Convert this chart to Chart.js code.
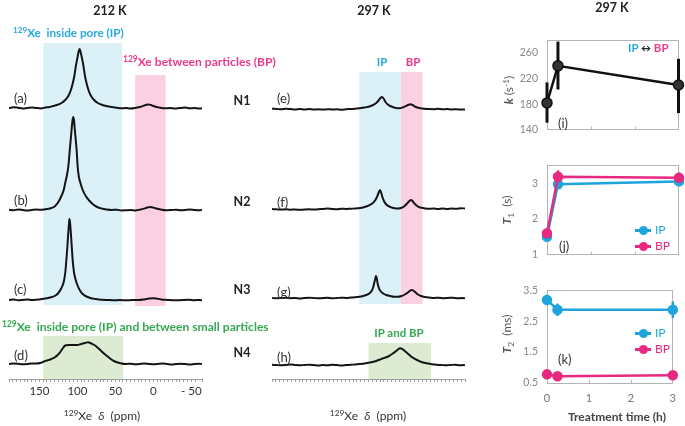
<!DOCTYPE html>
<html><head><meta charset="utf-8">
<script src="https://cdn.jsdelivr.net/npm/chart.js@4.4.1/dist/chart.umd.min.js"></script>
<style>
html,body{margin:0;padding:0;background:#fff;}
#wrap{position:relative;width:685px;height:426px;overflow:hidden;font-family:Lato,"Open Sans",sans-serif;color:#333;}
canvas{position:absolute;}
.t{position:absolute;white-space:nowrap;line-height:1;transform:translate(-50%,-50%);}
.l{position:absolute;white-space:nowrap;line-height:1;transform:translateY(-50%);}
.r{position:absolute;white-space:nowrap;line-height:1;transform:translate(-50%,-50%) rotate(-90deg);}
.b{font-weight:700;}
sup{font-size:.7em;position:relative;top:-.45em;vertical-align:baseline;line-height:0;}
sub{font-size:.7em;position:relative;top:.3em;vertical-align:baseline;line-height:0;}
.lg{position:absolute;transform:translateY(-50%);height:10px;width:16px;}
.lg .ln{position:absolute;left:0;top:4px;width:16px;height:2.5px;}
.lg .dt{position:absolute;left:3.5px;top:0.5px;width:9px;height:9px;border-radius:50%;}
</style></head>
<body><div id="wrap">
<canvas id="cLeft" width="230" height="426" style="left:0;top:0"></canvas>
<canvas id="cMid" width="250" height="426" style="left:230px;top:0"></canvas>
<canvas id="cI" width="215" height="120" style="left:470px;top:25px"></canvas>
<canvas id="cJ" width="215" height="120" style="left:470px;top:150px"></canvas>
<canvas id="cK" width="215" height="151" style="left:470px;top:275px"></canvas>

<div class="t b" style="left:110px;top:11px;font-size:12.5px;color:#222">212 K</div>
<div class="t b" style="left:374px;top:11px;font-size:12.5px;color:#222">297 K</div>
<div class="t b" style="left:612px;top:8px;font-size:12.5px;color:#222">297 K</div>

<div class="l b" style="left:13px;top:33px;color:#29a8e0;font-size:11.7px"><sup>129</sup>Xe&nbsp; inside pore (IP)</div>
<div class="l b" style="left:123px;top:62px;color:#ec3b8d;font-size:12.1px"><sup>129</sup>Xe between particles (BP)</div>
<div class="l b" style="left:2px;top:327px;color:#35a853;font-size:12.1px"><sup>129</sup>Xe&nbsp; inside pore (IP) and between small particles</div>

<div class="l" style="left:14px;top:98px;font-size:13px">(a)</div>
<div class="l" style="left:14px;top:200px;font-size:13px">(b)</div>
<div class="l" style="left:14px;top:289px;font-size:13px">(c)</div>
<div class="l" style="left:14px;top:355px;font-size:13px">(d)</div>

<div class="t b" style="left:242px;top:101px;font-size:12.5px;color:#222">N1</div>
<div class="t b" style="left:242px;top:202px;font-size:12.5px;color:#222">N2</div>
<div class="t b" style="left:242px;top:290px;font-size:12.5px;color:#222">N3</div>
<div class="t b" style="left:242px;top:353px;font-size:12.5px;color:#222">N4</div>

<div class="l" style="left:277px;top:98px;font-size:13px">(e)</div>
<div class="l" style="left:277px;top:202px;font-size:13px">(f)</div>
<div class="l" style="left:277px;top:292px;font-size:13px">(g)</div>
<div class="l" style="left:277px;top:357px;font-size:13px">(h)</div>

<div class="t b" style="left:382px;top:62px;color:#29a8e0;font-size:11.5px">IP</div>
<div class="t b" style="left:413px;top:62px;color:#ec3b8d;font-size:11.5px">BP</div>
<div class="t b" style="left:399px;top:333px;color:#35a853;font-size:11.5px">IP and BP</div>

<div class="t" style="left:102px;top:416px;font-size:12px"><sup>129</sup>Xe&nbsp; <i>δ</i>&nbsp; (ppm)</div>
<div class="t" style="left:368px;top:416px;font-size:12px"><sup>129</sup>Xe&nbsp; <i>δ</i>&nbsp; (ppm)</div>

<div class="l" style="left:558px;top:123px;font-size:13px">(i)</div>
<div class="l" style="left:559px;top:246px;font-size:13px">(j)</div>
<div class="l" style="left:558px;top:359px;font-size:13px">(k)</div>

<div class="l b" style="left:628px;top:48px;font-size:11.5px"><span style="color:#29a8e0">IP</span> <span style="color:#222;font-size:10px">&#8596;</span> <span style="color:#ec3b8d">BP</span></div>

<div class="r" style="left:509px;top:90px;font-size:12px;color:#555"><i class="b">k</i> (s<sup>-1</sup>)</div>
<div class="r" style="left:507px;top:210px;font-size:12px;color:#555"><i class="b">T</i><sub>1</sub>&nbsp; (s)</div>
<div class="r" style="left:507px;top:334px;font-size:12px;color:#555"><i class="b">T</i><sub>2</sub>&nbsp; (ms)</div>
<div class="t b" style="left:617px;top:417px;font-size:12px;color:#444">Treatment time (h)</div>

<div class="lg" style="left:635px;top:230px"><div class="ln" style="background:#1ea5dc"></div><div class="dt" style="background:#1ea5dc"></div></div>
<div class="l" style="left:655px;top:230px;font-size:12px;color:#1ea5dc">IP</div>
<div class="lg" style="left:635px;top:246px"><div class="ln" style="background:#e8297f"></div><div class="dt" style="background:#e8297f"></div></div>
<div class="l" style="left:655px;top:246px;font-size:12px;color:#e8297f">BP</div>
<div class="lg" style="left:635px;top:333px"><div class="ln" style="background:#1ea5dc"></div><div class="dt" style="background:#1ea5dc"></div></div>
<div class="l" style="left:655px;top:333px;font-size:12px;color:#1ea5dc">IP</div>
<div class="lg" style="left:635px;top:349px"><div class="ln" style="background:#e8297f"></div><div class="dt" style="background:#e8297f"></div></div>
<div class="l" style="left:655px;top:349px;font-size:12px;color:#e8297f">BP</div>
</div>

<script>
// ---------------- DATA ----------------
// 129Xe NMR spectra, [chemical shift (ppm), intensity (a.u.)]
const specA = [[190,0],[184,0.8],[178,0.3],[172,-0.5],[166,0],[160,0.6],[154,0],[148,-0.4],[142,0.5],[137,1],[132,2],[127,3],[122,4.5],[116,8],[112,12],[109,17],[106,25],[104,32],[102,42],[100,50],[98.5,56],[97,59],[95.5,55],[94,50],[92,42],[90,32],[88,25],[85,17],[82,12],[78,8],[72,4.5],[67,3],[62,2],[55,1],[48,0.3],[42,-0.3],[36,0],[30,-0.5],[24,0],[18,1],[13,2.2],[9,3.3],[6,3.6],[3,3],[0,2],[-4,1],[-9,0.3],[-15,-0.3],[-22,0],[-28,-0.6],[-35,0],[-42,0.4],[-48,-0.3],[-54,0],[-60,-0.5],[-64,-0.3]];
const specB = [[190,0.3],[184,-0.3],[178,0.5],[172,0],[166,-0.6],[160,0],[154,0.5],[148,0.2],[142,0.8],[136,1.5],[130,3.5],[125,8],[121,14],[118,20],[116,27],[114,34],[112,43],[110,60],[108,77],[106.5,89],[105.5,93],[104.5,90],[103,77],[101,60],[99.6,43],[98,33],[96,27],[93,20],[89,14],[85,10],[80,6],[74,3],[68,1.5],[62,0.6],[55,0],[48,0.3],[42,-0.5],[36,-0.3],[30,0],[24,-0.4],[18,0.3],[12,1.4],[8,2.5],[4,3],[0,2.4],[-5,1.2],[-11,0.2],[-17,-0.3],[-24,0],[-30,0.3],[-36,-0.2],[-42,0],[-48,0.4],[-54,0],[-60,-0.3],[-64,0]];
const specC = [[190,0],[184,0.5],[178,-0.3],[172,0],[166,0.4],[160,0],[154,0.3],[148,0.8],[142,1.5],[136,2.5],[130,4],[125,7],[121,12],[118,18],[116,27],[114.5,40],[113.2,53],[112,67],[111,77],[110.5,81],[109.7,78],[108.6,67],[107.3,52],[106,38],[104.5,28],[102.6,21],[100,15],[97,10],[93,6],[88,3.5],[83,2],[76,1],[68,0.3],[60,0],[52,-0.3],[44,0],[36,-0.3],[28,0],[20,0],[12,0.6],[6,1.4],[1,1.8],[-4,1.5],[-9,0.8],[-15,0.2],[-22,0],[-30,-0.3],[-38,0],[-46,0.2],[-54,-0.2],[-60,0],[-64,-0.3]];
const specD = [[190,0],[184,0.5],[178,0.2],[172,-0.3],[166,0],[160,0.6],[154,0.4],[148,1.2],[144,2.5],[140,3.5],[135,4.8],[130,6.5],[126,9],[122,12.5],[119,16],[116,18.5],[112,19],[106,19],[100,19],[95,20],[90,21],[86,21.8],[83,21],[79,19.5],[75,17.5],[70,14],[65,10.5],[61,8],[57,5.5],[52,3],[47,1.5],[42,0.5],[36,0],[30,0.3],[24,-0.2],[18,0],[12,0.4],[6,0],[0,-0.3],[-6,0],[-12,0.4],[-18,0],[-24,-0.4],[-30,0],[-36,0.3],[-42,0],[-48,-0.4],[-54,0],[-60,0.3],[-64,0]];
const specE = [[188,0.3],[182,0],[176,-0.3],[170,0.3],[164,0],[158,-0.4],[152,0],[146,-0.5],[140,0],[134,-0.6],[128,-0.3],[122,-0.6],[116,-0.2],[110,-0.5],[104,-0.3],[98,-0.8],[92,-0.2],[86,0],[80,0.2],[74,0.8],[68,1.5],[62,2.5],[57,4],[53,6],[50,8.5],[47.5,11],[45.5,12],[43.5,10.5],[41,7],[38,4.5],[35,3],[31,1.8],[27,1],[23,0.8],[19,1.5],[15,2.8],[11,4.3],[8.5,4.7],[6,4],[3,2.5],[0,1.5],[-4,0.8],[-9,0.3],[-15,0],[-21,-0.2],[-27,0.2],[-33,-0.3],[-39,0],[-45,-0.5],[-51,-0.2],[-57,-0.6],[-62,-0.4]];
const specF = [[188,0],[182,-0.3],[176,-0.6],[170,-0.3],[164,-0.7],[158,-0.5],[152,-0.8],[146,-0.5],[140,-0.3],[134,-0.6],[128,-0.2],[122,0],[116,0.5],[110,0],[104,-0.3],[98,0.3],[92,0],[86,0.3],[80,0.5],[74,1],[69,1.8],[64,3],[59,5],[55,8],[52,12],[50,16],[48,19],[46.5,16],[45,12],[43,8],[40.5,5],[37,2.8],[33,1.5],[29,0.7],[25,0.5],[21,1],[17,2.5],[13,5.5],[10,8],[8,9],[6,8],[3.5,5.5],[0,3],[-4,1.5],[-9,0.8],[-15,0.2],[-21,0.5],[-27,0],[-33,0.4],[-39,0],[-45,0.5],[-51,0.2],[-57,0.8],[-62,0.5]];
const specG = [[188,0],[182,-0.3],[176,0],[170,0.3],[164,-0.2],[158,0],[152,-0.4],[146,0],[140,0.3],[134,0],[128,-0.3],[122,0],[116,0.2],[110,-0.3],[104,0],[98,0.3],[92,0],[86,0.4],[80,0.8],[75,1.2],[70,2],[66,3],[62,4.5],[59,7],[57,10.5],[55.3,16],[54,20],[53.3,22],[52.4,20],[51.3,15],[49.8,10.5],[47.5,7],[44,4.5],[40,3],[35,2],[30,1.2],[25,1.2],[20,2],[16,3.5],[12,5.5],[9,7.3],[7,8],[5,7.5],[2,5.5],[-1,3.5],[-5,2],[-10,1],[-16,0.4],[-22,0],[-28,0.3],[-34,-0.2],[-40,0],[-46,0.3],[-52,-0.3],[-58,0],[-62,-0.3]];
const specH = [[188,0.3],[182,0],[176,-0.3],[170,0],[164,0.4],[158,0],[152,-0.3],[146,0],[140,0.3],[134,0],[128,-0.5],[122,0],[116,-0.3],[110,0.3],[104,0],[98,-0.4],[92,0],[86,0.3],[80,0.5],[74,1],[68,1.6],[63,2.3],[58,3],[53,4],[48,5.5],[44,6.7],[40,7.8],[36,9.2],[32,11.2],[28,13.5],[25,15.5],[22,16.7],[19,15.8],[16,14],[13,12],[10,10],[7,8],[3,6.2],[0,5],[-4,3.5],[-9,2.2],[-14,1.4],[-19,0.8],[-25,0.3],[-31,0],[-37,-0.3],[-43,0],[-49,0.3],[-55,-0.3],[-60,0],[-62,-0.3]];

// shaded chemical-shift ranges (ppm)
const leftIPRange  = [145, 41];
const leftBPRange  = [24, -16];
const leftMixRange = [145, 40];
const midIPRange   = [75, 21];
const midBPRange   = [21, -7];
const midMixRange  = [63, -18];

const ppmLabelValues = [150, 100, 50, 0, -50];

// relaxation / exchange vs treatment time
const timeH   = [0, 0.25, 3];
const kRate   = [182, 240, 210];
const kLow    = [151, 203, 166];
const kHigh   = [214, 278, 251];
const t1IP    = [1.5, 2.97, 3.05];
const t1IPErr = [0.04, 0.05, 0.07];
const t1BP    = [1.6, 3.18, 3.15];
const t1BPErr = [0.06, 0.18, 0.15];
const t2IP    = [3.19, 2.87, 2.87];
const t2IPErr = [0.17, 0.2, 0.27];
const t2BP    = [0.78, 0.72, 0.75];
const t2BPErr = [0.05, 0.04, 0.05];

const kTicks    = [140, 180, 220, 260];
const t1Ticks   = [1, 2, 3];
const t2Ticks   = [0.5, 1.5, 2.5, 3.5];
const timeTicks = [0, 1, 2, 3];

// ---------------- STYLE / LAYOUT ----------------
const CYAN = '#1ea5dc', PINK = '#e8297f';
const SHADE_BLUE = '#dcf0f8', SHADE_PINK = '#fbd0e2', SHADE_GREEN = '#dcebd2';
const FONT = 'Lato';
let pid = 0;

function makeShades(boxes){
  return {id:'shades'+(pid++), beforeDraw(chart){
    const {ctx, scales:{x,y}} = chart;
    boxes.forEach(b=>{
      const x0=x.getPixelForValue(b.range[0]), x1=x.getPixelForValue(b.range[1]);
      const y0=y.getPixelForValue(b.y0), y1=y.getPixelForValue(b.y1);
      ctx.save(); ctx.fillStyle=b.color;
      ctx.fillRect(Math.min(x0,x1), Math.min(y0,y1), Math.abs(x1-x0), Math.abs(y1-y0));
      ctx.restore();
    });
  }};
}
function makeErr(specs){
  return {id:'err'+(pid++), beforeDatasetsDraw(chart){
    const {ctx, scales:{x,y}} = chart;
    specs.forEach(s=>{
      ctx.save(); ctx.strokeStyle=s.color; ctx.lineWidth=s.width;
      s.xs.forEach((t,i)=>{
        const px=x.getPixelForValue(t);
        ctx.beginPath(); ctx.moveTo(px,y.getPixelForValue(s.lo[i])); ctx.lineTo(px,y.getPixelForValue(s.hi[i])); ctx.stroke();
      });
      ctx.restore();
    });
  }};
}
const boxPlugin = {id:'box', beforeDatasetsDraw(chart){
  const {ctx, chartArea:a, scales:{x}} = chart;
  ctx.save(); ctx.strokeStyle='#b4b4b4'; ctx.lineWidth=1;
  ctx.strokeRect(Math.round(a.left)+0.5, Math.round(a.top)+0.5, Math.round(a.right-a.left)-1, Math.round(a.bottom-a.top));
  [1,2].forEach(v=>{ const px=Math.round(x.getPixelForValue(v))+0.5; ctx.beginPath(); ctx.moveTo(px,a.bottom); ctx.lineTo(px,a.bottom-3); ctx.stroke(); });
  ctx.restore();
}};

function specDataset(spec, base){
  return {data: spec.map(p=>({x:p[0], y:base+p[1]})), borderColor:'#151515', borderWidth:2,
          pointRadius:0, cubicInterpolationMode:'monotone', fill:false};
}
function ppmFmt(v){ return ppmLabelValues.includes(v) ? (v<0 ? '- '+Math.abs(v) : String(v)) : ''; }

function spectrumChart(id, specs, bases, xmin, xmax, pad, boxes){
  return new Chart(document.getElementById(id), {
    type:'line',
    data:{datasets: specs.map((s,i)=>specDataset(s, bases[i]))},
    options:{
      responsive:false, animation:false, events:[],
      layout:{padding:pad},
      plugins:{legend:{display:false}, tooltip:{enabled:false}},
      scales:{
        x:{type:'linear', reverse:true, min:xmin, max:xmax, afterFit:s=>{s.height=22;},
           grid:{display:true, drawOnChartArea:false, drawTicks:true, tickLength:3, color:'#a0a0a0', lineWidth:1},
           border:{display:true, color:'#a0a0a0', width:1},
           ticks:{stepSize:5, autoSkip:false, maxRotation:0, minRotation:0, padding:2, color:'#333',
                  font:{family:FONT, size:11.5}, callback:v=>ppmFmt(v)}},
        y:{display:false, min:0, max:349}
      }
    },
    plugins:[makeShades(boxes)]
  });
}

// y units = pixels above the axis line
spectrumChart('cLeft', [specA,specB,specC,specD], [271,169,79,15], -64, 190,
  {left:9, right:28, top:30, bottom:25},
  [{range:leftIPRange, y0:74, y1:336, color:SHADE_BLUE},
   {range:leftBPRange, y0:73, y1:304, color:SHADE_PINK},
   {range:leftMixRange, y0:0, y1:43, color:SHADE_GREEN}]);

spectrumChart('cMid', [specE,specF,specG,specH], [270,170,81,14], -62, 188,
  {left:42, right:15, top:30, bottom:25},
  [{range:midIPRange, y0:75, y1:307, color:SHADE_BLUE},
   {range:midBPRange, y0:75, y1:307, color:SHADE_PINK},
   {range:midMixRange, y0:0, y1:36, color:SHADE_GREEN}]);

function smallChart(id, datasets, ymin, ymax, yTicks, yFmt, pad, showX, errs){
  const xScale = {type:'linear', min:0, max:3, display:showX,
           afterBuildTicks:s=>{s.ticks=timeTicks.map(v=>({value:v}));},
           grid:{display:false, drawTicks:false}, border:{display:false},
           ticks:{padding:9, color:'#777', font:{family:FONT, size:11}, callback:v=>String(v)}};
  if (showX) xScale.afterFit = s=>{s.height=25;};
  return new Chart(document.getElementById(id), {
    type:'line',
    data:{datasets},
    options:{
      responsive:false, animation:false, events:[],
      layout:{padding:pad},
      plugins:{legend:{display:false}, tooltip:{enabled:false}},
      scales:{
        x:xScale,
        y:{min:ymin, max:ymax, afterFit:s=>{s.width=40;},
           afterBuildTicks:s=>{s.ticks=yTicks.map(v=>({value:v}));},
           grid:{display:false, drawTicks:false}, border:{display:false},
           ticks:{padding:9, color:'#888', font:{family:FONT, size:10.5}, callback:yFmt}}
      }
    },
    plugins:[boxPlugin, makeErr(errs)]
  });
}
function series(vals, color, r, fillc){
  return {data: timeH.map((t,i)=>({x:t, y:vals[i]})), borderColor:color, borderWidth:2.5,
          pointRadius:r, pointBackgroundColor:fillc||color, pointBorderColor:color, pointBorderWidth:1.5,
          tension:0, clip:false};
}
const pm = (v,e,s)=>v.map((x,i)=>x+s*e[i]);

smallChart('cI', [series(kRate,'#111',5,'#333')], 140, 280, kTicks, v=>String(v),
  {left:37, right:6, top:13, bottom:9}, false,
  [{xs:timeH, lo:kLow, hi:kHigh, color:'#111', width:3}]);

smallChart('cJ', [series(t1BP,PINK,4.5), series(t1IP,CYAN,4.5)], 1, 3.5, t1Ticks, v=>String(v),
  {left:37, right:6, top:14, bottom:10}, false,
  [{xs:timeH, lo:pm(t1IP,t1IPErr,-1), hi:pm(t1IP,t1IPErr,1), color:CYAN, width:2.5},
   {xs:timeH, lo:pm(t1BP,t1BPErr,-1), hi:pm(t1BP,t1BPErr,1), color:PINK, width:2.5}]);

smallChart('cK', [series(t2IP,CYAN,4.5), series(t2BP,PINK,4.5)], 0.5, 3.5, t2Ticks, v=>v.toFixed(1),
  {left:37, right:6, top:13, bottom:18}, true,
  [{xs:timeH, lo:pm(t2IP,t2IPErr,-1), hi:pm(t2IP,t2IPErr,1), color:CYAN, width:2.5},
   {xs:timeH, lo:pm(t2BP,t2BPErr,-1), hi:pm(t2BP,t2BPErr,1), color:PINK, width:2.5}]);
</script>
</body></html>
